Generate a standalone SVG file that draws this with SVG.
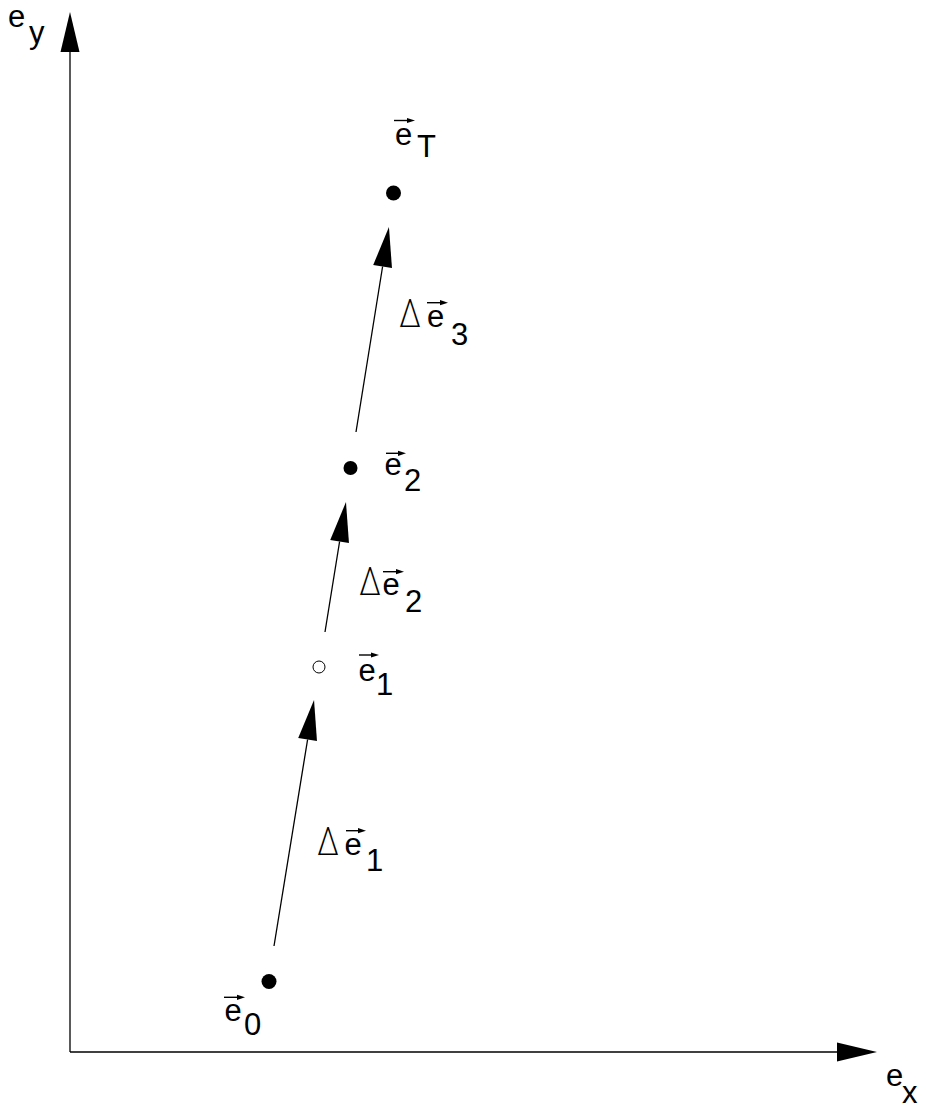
<svg xmlns="http://www.w3.org/2000/svg" width="927" height="1110" viewBox="0 0 927 1110">
<style>
.t{font-family:"Liberation Sans",Arial,sans-serif;font-size:31px;fill:#000}
.d{font-family:Inter,"Liberation Sans",sans-serif;font-weight:200;font-size:38px;fill:#000}
.ln{stroke:#000;stroke-width:1.3;fill:none}
.vl{stroke:#000;stroke-width:1.4;fill:none}
</style>
<defs>
<marker id="big" markerUnits="userSpaceOnUse" viewBox="0 -10 40 20" refX="0" refY="0" markerWidth="40" markerHeight="20" orient="auto" overflow="visible">
<path d="M0,-9.5 L40,0 L0,9.5 Z" fill="#000"/>
</marker>
<marker id="sm" markerUnits="userSpaceOnUse" viewBox="0 -3 8 6" refX="0" refY="0" markerWidth="8" markerHeight="6" orient="auto" overflow="visible">
<path d="M0,-2.6 L8,0 L0,2.6 Z" fill="#000"/>
</marker>
</defs>
<rect width="927" height="1110" fill="#fff"/>
<g id="connectors">
<line id="axis-y" class="ln" x1="70" y1="1052" x2="70" y2="52" marker-end="url(#big)"/>
<line id="axis-x" class="ln" x1="70" y1="1052" x2="837" y2="1052" marker-end="url(#big)"/>
<line id="arrow1" class="ln" x1="274" y1="946" x2="307.6" y2="739.5" marker-end="url(#big)"/>
<line id="arrow2" class="ln" x1="325" y1="632" x2="339.6" y2="541.5" marker-end="url(#big)"/>
<line id="arrow3" class="ln" x1="356" y1="432" x2="382.6" y2="266.5" marker-end="url(#big)"/>
</g>
<g id="label-ey">
<text class="t" x="8" y="27">e</text><text class="t" x="29" y="43">y</text>
</g>
<g id="label-ex">
<text class="t" x="886" y="1086">e</text><text class="t" x="902" y="1103">x</text>
</g>
<g id="node-eT">
<circle cx="393.5" cy="193" r="7.5" fill="#000"/>
<line class="vl" x1="394" y1="120.5" x2="407" y2="120.5" marker-end="url(#sm)"/>
<text class="t" x="395" y="145">e</text><text class="t" x="417" y="157">T</text>
</g>
<g id="label-de3">
<text class="d" x="399" y="327" textLength="22" lengthAdjust="spacingAndGlyphs">Δ</text>
<line class="vl" x1="427" y1="302.7" x2="440" y2="302.7" marker-end="url(#sm)"/>
<text class="t" x="427" y="327">e</text><text class="t" x="451" y="345">3</text>
</g>
<g id="node-e2">
<circle cx="350.5" cy="468" r="7" fill="#000"/>
<line class="vl" x1="386" y1="453.3" x2="398" y2="453.3" marker-end="url(#sm)"/>
<text class="t" x="384.5" y="475">e</text><text class="t" x="404" y="491">2</text>
</g>
<g id="label-de2">
<text class="d" x="359" y="595" textLength="22" lengthAdjust="spacingAndGlyphs">Δ</text>
<line class="vl" x1="383" y1="571.7" x2="396" y2="571.7" marker-end="url(#sm)"/>
<text class="t" x="382.5" y="595">e</text><text class="t" x="405" y="612">2</text>
</g>
<g id="node-e1">
<circle cx="319" cy="667" r="6" fill="#fff" stroke="#000" stroke-width="1"/>
<line class="vl" x1="359" y1="655" x2="371" y2="655" marker-end="url(#sm)"/>
<text class="t" x="358.5" y="681">e</text><text class="t" x="376" y="695">1</text>
</g>
<g id="label-de1">
<text class="d" x="317" y="855" textLength="22" lengthAdjust="spacingAndGlyphs">Δ</text>
<line class="vl" x1="346" y1="830.7" x2="358" y2="830.7" marker-end="url(#sm)"/>
<text class="t" x="344.5" y="855">e</text><text class="t" x="366" y="871">1</text>
</g>
<g id="node-e0">
<circle cx="269" cy="981.5" r="7.5" fill="#000"/>
<line class="vl" x1="224" y1="997.3" x2="237" y2="997.3" marker-end="url(#sm)"/>
<text class="t" x="224.5" y="1021">e</text><text class="t" x="244" y="1035">0</text>
</g>
</svg>
